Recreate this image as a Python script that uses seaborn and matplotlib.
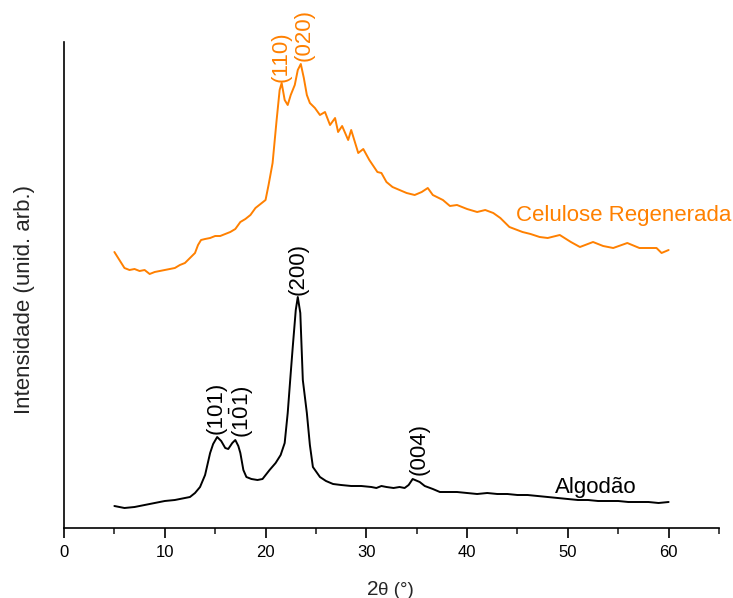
import matplotlib
matplotlib.use("Agg")
import matplotlib.pyplot as plt
import seaborn as sns
import pandas as pd
from matplotlib.ticker import MultipleLocator

# ---- data ----
algodao_x = [5.0, 6.0, 7.0, 8.0, 9.0, 10.0, 11.0, 12.0, 12.5, 13.0, 13.5, 14.0, 14.5,
             14.8, 15.2, 15.6, 16.0, 16.3, 16.7, 17.0, 17.3, 17.5, 17.8, 18.1, 18.6,
             19.2, 19.7, 20.4, 21.0, 21.5, 21.9, 22.2, 22.5, 22.7, 23.0, 23.2, 23.45,
             23.7, 24.1, 24.4, 24.7, 25.4, 26.0, 26.7, 27.5, 28.5, 29.5, 30.5, 31.0,
             31.5, 32.0, 32.7, 33.3, 33.8, 34.2, 34.6, 35.3, 35.8, 36.6, 37.3, 38.0,
             39.0, 40.0, 41.0, 42.0, 43.0, 44.0, 45.0, 46.0, 47.0, 48.0, 49.0, 50.0,
             51.0, 52.0, 53.0, 54.0, 55.0, 56.0, 57.0, 58.0, 59.0, 60.0]
algodao_y = [22, 20, 21, 23, 25, 27, 28, 30, 31, 35, 41, 53, 75,
             84, 91, 87, 80, 79, 85, 88, 82, 75, 58, 51, 49,
             48, 49, 58, 65, 73, 85, 115, 155, 181, 218, 231, 215,
             148, 115, 83, 61, 51, 47, 44, 43, 42, 42, 41, 40,
             42, 41, 40, 41, 40, 43, 49, 46, 42, 39, 36, 36,
             36, 35, 34, 35, 34, 34, 33, 33, 32, 31, 30, 29,
             28, 28, 27, 27, 27, 26, 26, 26, 25, 26]

celulose_x = [5.0, 5.5, 6.0, 6.5, 7.0, 7.5, 8.0, 8.5, 9.0, 9.5, 10.0, 10.5, 11.0,
              11.5, 12.0, 12.5, 13.0, 13.3, 13.6, 14.0, 14.5, 15.0, 15.5, 16.0, 16.5,
              17.0, 17.5, 18.0, 18.5, 19.0, 19.5, 20.0, 20.3, 20.7, 21.1, 21.4, 21.6,
              21.9, 22.2, 22.5, 22.9, 23.2, 23.5, 23.8, 24.1, 24.4, 24.9, 25.4, 25.9,
              26.4, 26.9, 27.2, 27.6, 28.2, 28.5, 29.2, 29.7, 30.3, 31.1, 31.5, 32.0,
              32.6, 33.3, 34.0, 34.8, 35.5, 36.1, 36.6, 37.6, 38.3, 39.0, 40.0, 41.0,
              41.8, 42.6, 43.3, 44.2, 45.5, 46.3, 47.2, 48.0, 49.2, 50.3, 51.2, 52.5,
              53.5, 54.5, 55.9, 57.1, 58.0, 58.8, 59.3, 60.0]
celulose_y = [276, 268, 260, 258, 259, 257, 258, 254, 256, 257, 258, 259, 260,
              263, 265, 270, 275, 283, 288, 289, 290, 292, 292, 294, 296,
              299, 306, 309, 313, 320, 324, 328, 343, 365, 408, 438, 445,
              428, 423, 433, 443, 458, 464, 450, 433, 425, 420, 413, 416,
              403, 410, 396, 402, 388, 398, 375, 379, 368, 356, 355, 346,
              341, 338, 335, 333, 336, 340, 333, 328, 322, 323, 319, 316,
              318, 315, 310, 301, 296, 294, 291, 290, 293, 286, 281, 286,
              282, 280, 285, 280, 280, 280, 275, 278]

x_ticks = [0, 10, 20, 30, 40, 50, 60]

ORANGE = "#ff8000"

sns.set_style("ticks")
plt.rcParams["font.family"] = ["Liberation Sans", "DejaVu Sans"]
plt.rcParams["mathtext.fontset"] = "custom"
plt.rcParams["mathtext.rm"] = "Liberation Sans"
plt.rcParams["mathtext.it"] = "Liberation Sans"

fig = plt.figure(figsize=(7.33, 5.98), dpi=100)
ax = fig.add_axes([64 / 733, 70 / 598, 655 / 733, 486 / 598])

df_a = pd.DataFrame({"x": algodao_x, "y": algodao_y})
df_c = pd.DataFrame({"x": celulose_x, "y": celulose_y})
sns.lineplot(data=df_a, x="x", y="y", ax=ax, color="black", lw=1.4,
             estimator=None, sort=False)
sns.lineplot(data=df_c, x="x", y="y", ax=ax, color=ORANGE, lw=1.4,
             estimator=None, sort=False)

ax.set_xlim(0, 65)
ax.set_ylim(0, 486)
ax.set_xticks(x_ticks)
ax.xaxis.set_minor_locator(MultipleLocator(5))
ax.set_yticks([])
ax.tick_params(axis="x", which="major", length=7, width=1.2, labelsize=12,
               direction="out", pad=5, colors="black")
ax.tick_params(axis="x", which="minor", length=4, width=1.2, direction="out")
for s in ["top", "right"]:
    ax.spines[s].set_visible(False)
for s in ["left", "bottom"]:
    ax.spines[s].set_linewidth(1.2)
    ax.spines[s].set_color("black")

ax.set_xlabel("")
ax.set_ylabel("Intensidade (unid. arb.)", fontsize=16)
ax.yaxis.set_label_coords(-0.044, 0.47)

# x label: "2" bigger, "θ (°)" smaller
t2 = fig.text(367 / 733, 1 - 595 / 598, "2", fontsize=15, ha="left", va="baseline")
ax.annotate("θ (°)", xy=(1, 0), xycoords=t2, fontsize=13.5, ha="left",
            va="bottom", annotation_clip=False)

# peak labels
lab_kw = dict(rotation=90, ha="center", va="bottom", fontsize=16)
ax.text(21.5, 446, "(110)", color=ORANGE, **lab_kw)
ax.text(23.8, 467, "(020)", color=ORANGE, **lab_kw)
ax.text(23.2, 233, "(200)", color="black", **lab_kw)
ax.text(15.1, 94, "(101)", color="black", **lab_kw)
ax.text(17.7, 90, "(1$\\bar{0}$1)", color="black", **lab_kw)
ax.text(35.2, 53, "(004)", color="black", **lab_kw)

ax.text(48.7, 40, "Algodão", color="black", fontsize=16, ha="left", va="center")
ax.text(44.9, 313, "Celulose Regenerada", color=ORANGE, fontsize=16,
        ha="left", va="center")

fig.savefig("out.png", dpi=100)
